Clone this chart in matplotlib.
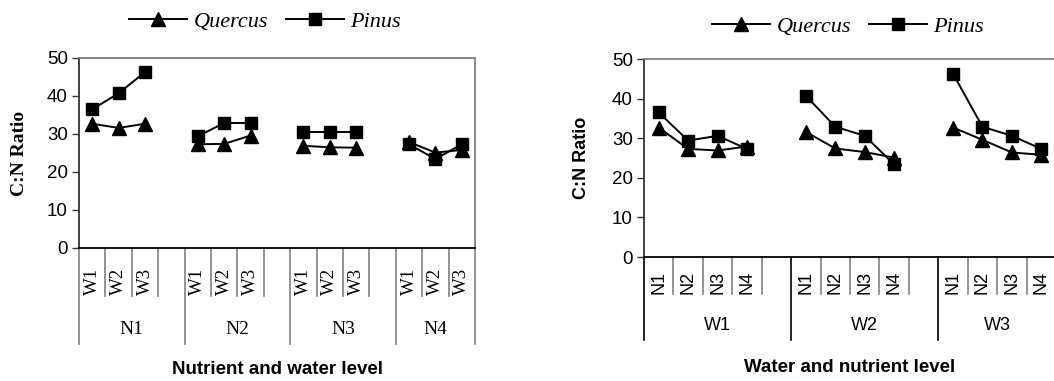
import matplotlib
matplotlib.use("Agg")
import matplotlib.pyplot as plt
from matplotlib.lines import Line2D
import numpy as np

# ---- data ----
nutrient_levels = ["N1", "N2", "N3", "N4"]
water_levels = ["W1", "W2", "W3"]
series_names = ["Quercus", "Pinus"]
# values indexed [nutrient][water]
quercus_cn = [
    [32.7, 31.6, 32.7],
    [27.3, 27.4, 29.6],
    [26.9, 26.5, 26.4],
    [27.9, 25.1, 25.8],
]
pinus_cn = [
    [36.5, 40.7, 46.3],
    [29.4, 32.9, 32.9],
    [30.6, 30.6, 30.6],
    [27.3, 23.4, 27.3],
]
yticks = [0, 10, 20, 30, 40, 50]

W, H = 1054, 381
fig = plt.figure(figsize=(W / 100, H / 100), dpi=100)

def px_axes(x0, x1, y0, y1):
    return fig.add_axes([x0 / W, 1 - y1 / H, (x1 - x0) / W, (y1 - y0) / H])

markers = {"Quercus": "^", "Pinus": "s"}
msizes = {"Quercus": 10, "Pinus": 8.5}
LW = 1.4

def draw_panel(ax, groups, sub, data, axh_px, inner_px, group_px, label_px,
               grouplab_px, sub_font, grp_font, sep_inner_color, sep_group_color,
               ylabel_font, xlabel, ylabel_x, xlabel_y, nslots_total):
    k = len(sub)
    for name, vals in data:
        for g, row in enumerate(groups):
            xs = [g * (k + 1) + i for i in range(len(sub))]
            ax.plot(xs, vals[g], color="black", lw=LW, marker=markers[name],
                    ms=msizes[name], mfc="black", mec="black", clip_on=False, zorder=3)
    ax.set_xlim(-0.5, nslots_total - 0.5)
    ax.set_ylim(0, 50)
    ax.set_yticks(yticks)
    ax.set_yticklabels([str(v) for v in yticks], fontsize=13.5,
                       fontfamily="Liberation Sans")
    ax.tick_params(axis="y", direction="out", length=5, width=1, color="#333333", pad=3)
    ax.set_xticks([])
    for s in ["top", "right"]:
        ax.spines[s].set_color("#808080")
        ax.spines[s].set_linewidth(1.3)
    ax.spines["left"].set_color("#333333")
    ax.spines["left"].set_linewidth(1.3)
    ax.spines["bottom"].set_color("black")
    ax.spines["bottom"].set_linewidth(1.3)
    trans = ax.get_xaxis_transform()
    inner = inner_px / axh_px
    grp = group_px / axh_px
    for g in range(len(groups)):
        start = g * (k + 1) - 0.5
        ax.plot([start, start], [0, -grp], transform=trans, color=sep_group_color,
                lw=1.2, clip_on=False)
        for i in range(1, k + 1):
            xx = start + i
            if xx > nslots_total - 0.5 + 1e-9:
                break
            if abs(xx - (nslots_total - 0.5)) < 1e-9:
                ax.plot([xx, xx], [0, -grp], transform=trans, color=sep_group_color,
                        lw=1.2, clip_on=False)
            else:
                ax.plot([xx, xx], [0, -inner], transform=trans, color=sep_inner_color,
                        lw=1.2, clip_on=False)
        for i, lab in enumerate(sub):
            ax.text(g * (k + 1) + i, -label_px / axh_px, lab, transform=trans,
                    rotation=90, ha="center", va="bottom", **sub_font)
        center = (start + min(start + k + 1, nslots_total - 0.5)) / 2
        ax.text(center, -grouplab_px / axh_px, groups[g], transform=trans,
                ha="center", va="center", **grp_font)
    ax.text(-ylabel_x, 0.5, "C:N Ratio", transform=ax.transAxes, rotation=90,
            ha="center", va="center", **ylabel_font)
    ax.text(0.5, -xlabel_y / axh_px, xlabel, transform=ax.transAxes,
            ha="center", va="center", fontsize=13.5, fontweight="bold",
            fontfamily="Liberation Sans")

# ---- left panel: grouped by nutrient ----
axL = px_axes(79, 475, 58, 248)
left_data = [("Quercus", quercus_cn), ("Pinus", pinus_cn)]
draw_panel(axL, nutrient_levels, water_levels, left_data, 190, 48, 96, 47, 82,
           dict(fontsize=13.5, fontfamily="Liberation Serif"),
           dict(fontsize=14, fontfamily="Liberation Serif"),
           "#808080", "#808080",
           dict(fontsize=14, fontweight="bold", fontfamily="Liberation Serif"),
           "Nutrient and water level", 60 / 396, 122, 15)

# ---- right panel: grouped by water ----
quercus_T = [list(r) for r in zip(*quercus_cn)]
pinus_T = [list(r) for r in zip(*pinus_cn)]
axR = px_axes(644, 1056, 59, 257)
right_data = [("Quercus", quercus_T), ("Pinus", pinus_T)]
draw_panel(axR, water_levels, nutrient_levels, right_data, 198, 37, 83, 37, 69,
           dict(fontsize=13, fontfamily="Liberation Sans"),
           dict(fontsize=13, fontfamily="Liberation Sans"),
           "#808080", "black",
           dict(fontsize=13, fontweight="bold", fontfamily="Liberation Sans"),
           "Water and nutrient level", 62 / 412, 110, 14)

# ---- legends ----
def make_legend(cx, cy):
    handles = [Line2D([], [], color="black", lw=LW, marker=markers[n], ms=msizes[n])
               for n in series_names]
    fig.legend(handles, series_names, loc="center", bbox_to_anchor=(cx / W, 1 - cy / H),
               ncol=2, frameon=False, handlelength=2.6, handletextpad=0.3,
               columnspacing=0.8,
               prop=dict(family="Liberation Serif", style="italic", size=16))

make_legend(265, 22)
make_legend(848, 27)

fig.savefig("out.png", dpi=100)
